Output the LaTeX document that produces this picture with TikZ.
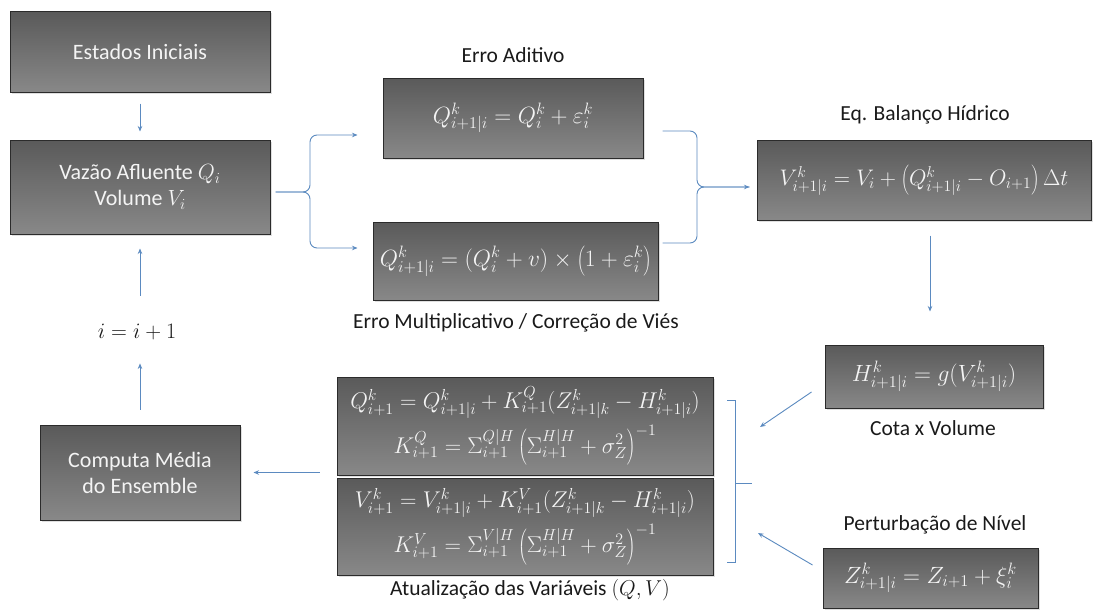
\documentclass[tikz,border=0pt]{standalone}
\usepackage{fix-cm}
\usepackage{fontspec}
\setmainfont{Carlito}
\usetikzlibrary{arrows.meta,shadows,calc}
\definecolor{arr}{HTML}{5B8AC0}
\definecolor{boxtop}{HTML}{5A5A5A}
\definecolor{boxbot}{HTML}{888888}
\definecolor{boxline}{HTML}{2B2B2B}
\definecolor{boxtext}{HTML}{F4F4F4}
\definecolor{labtext}{HTML}{1A1A1A}
\tikzset{
  box/.style={draw=boxline, line width=1pt, top color=boxtop, bottom color=boxbot,
    text=boxtext, align=center, inner sep=2pt,
    drop shadow={opacity=0.25, shadow xshift=1.5pt, shadow yshift=-1.5pt},
    font=\fontsize{22}{26}\selectfont},
  eqbox/.style={box, font=\fontsize{23.5}{27}\selectfont},
  lab/.style={text=labtext, font=\fontsize{21.5}{25}\selectfont},
  arrline/.style={draw=arr, line width=0.9pt},
  conn/.style={arrline, -{Stealth[length=5.5pt,width=4.5pt]}}
}
\begin{document}
\begin{tikzpicture}[x=1pt,y=-1pt]
\useasboundingbox[fill=white] (0,0) rectangle (1094,610);
% left column
\node[box, minimum width=260pt, minimum height=80pt] (est) at (140,52) {Estados Iniciais};
\node[box, minimum width=260pt, minimum height=94pt] (vaz) at (140,187) {Vazão Afluente $Q_i$\\Volume $V_i$};
\node[lab, font=\fontsize{22}{26}\selectfont] (inc) at (137,332) {$i = i + 1$};
\node[box, minimum width=200pt, minimum height=95pt] (comp) at (140,472.5) {Computa Média\\do Ensemble};
% error boxes
\node[eqbox, minimum width=260pt, minimum height=80pt] (adit) at (513,118) {$Q^k_{i+1|i} = Q^k_i + \varepsilon^k_i$};
\node[lab] (laditivo) at (513,55) {Erro Aditivo};
\node[eqbox, minimum width=285pt, minimum height=78pt] (mult) at (515.5,261) {$Q^k_{i+1|i} = (Q^k_i + v) \times \left(1 + \varepsilon^k_i\right)$};
\node[lab] (lmult) at (516,323) {Erro Multiplicativo / Correção de Viés};
% balance
\node[eqbox, font=\fontsize{22.5}{26}\selectfont, minimum width=334pt, minimum height=80pt] (bal) at (924,180) {$V^k_{i+1|i} = V_i + \left(Q^k_{i+1|i} - O_{i+1}\right)\Delta t$};
\node[lab] (lbal) at (925,115) {Eq. Balanço Hídrico};
\node[eqbox, minimum width=218pt, minimum height=63pt] (cota) at (934,376.5) {$H^k_{i+1|i} = g(V^k_{i+1|i})$};
\node[lab] (lcota) at (933,428) {Cota x Volume};
\node[lab] (lpert) at (935,525) {Perturbação de Nível};
\node[eqbox, minimum width=215pt, minimum height=60pt] (zbox) at (930.5,578) {$Z^k_{i+1|i} = Z_{i+1} + \xi^k_i$};
% update boxes
\node[eqbox, font=\fontsize{22.8}{26}\selectfont, minimum width=376pt, minimum height=98pt] (updQ) at (525,426)
  {$Q^k_{i+1} = Q^k_{i+1|i} + K^Q_{i+1}(Z^k_{i+1|k} - H^k_{i+1|i})$\\[6pt]
   $K^Q_{i+1} = \Sigma^{Q|H}_{i+1}\left(\Sigma^{H|H}_{i+1} + \sigma^2_Z\right)^{-1}$};
\node[eqbox, font=\fontsize{22.8}{26}\selectfont, minimum width=376pt, minimum height=97pt] (updV) at (525,526.5)
  {$V^k_{i+1} = V^k_{i+1|i} + K^V_{i+1}(Z^k_{i+1|k} - H^k_{i+1|i})$\\[6pt]
   $K^V_{i+1} = \Sigma^{V|H}_{i+1}\left(\Sigma^{H|H}_{i+1} + \sigma^2_Z\right)^{-1}$};
\node[lab] (lupd) at (530,590) {Atualização das Variáveis $(Q,V)$};
% connectors left column
\draw[conn, shorten <=11pt, shorten >=8pt] (est.south) -- (vaz.north);
\draw[conn, shorten <=25pt, shorten >=14pt] (inc.north -| vaz.south) -- (vaz.south);
\draw[conn, shorten <=15pt, shorten >=20pt] (comp.north) -- (inc.south -| comp.north);
\draw[conn, shorten <=17pt, shorten >=13pt] (updQ.south west |- comp.east) -- (comp.east);
% left brace
\coordinate (lbtip) at (310,192);
\draw[conn, rounded corners=7pt] ([xshift=5pt,yshift=-5pt]vaz.east) -- (lbtip) |- ([xshift=-25pt,yshift=-17pt]adit.west);
\draw[conn, rounded corners=7pt] ([xshift=5pt,yshift=-5pt]vaz.east) -- (lbtip) |- ([xshift=-15pt,yshift=13pt]mult.west);
% right brace
\coordinate (rbtip) at (697,187);
\draw[arrline, rounded corners=7pt] ([xshift=19pt,yshift=-13pt]adit.east) -| (rbtip) -- ([xshift=-7pt]rbtip -| bal.west);
\draw[conn, rounded corners=7pt] ([xshift=4pt,yshift=18pt]mult.east) -| (rbtip) -- ([xshift=-7pt]rbtip -| bal.west);
% balance to cota
\draw[conn, shorten <=15pt, shorten >=33pt] (bal.south -| 930,0) -- (cota.north -| 930,0);
% bracket
\coordinate (brT) at (735,400);
\coordinate (brB) at (735,562);
\coordinate (brM) at (735,483);
\draw[arrline] ([xshift=-8pt]brT) -- (brT) -- (brB) -- ([xshift=-8pt]brB);
\draw[arrline] (brM) -- ([xshift=17pt]brM);
\coordinate (ca) at (760,427);
\coordinate (za) at (758,533);
\draw[conn] ([xshift=-13pt,yshift=-15.5pt]cota.west) -- (ca);
\draw[conn] ([xshift=-10pt,yshift=13pt]zbox.west) -- (za);
\end{tikzpicture}
\end{document}
